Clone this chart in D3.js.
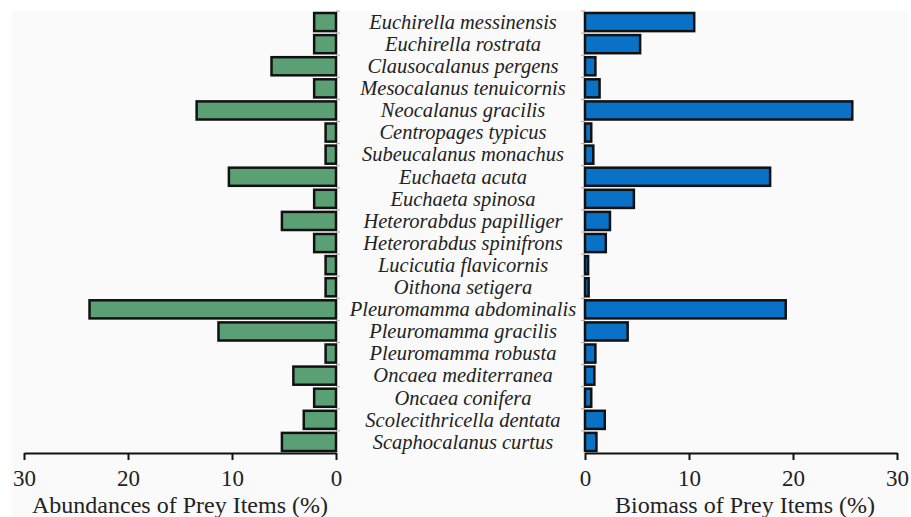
<html>
    <head>
        <script src="https://d3js.org/d3.v7.min.js"></script>
        <style>
            body { margin: 0; background: #ffffff; }
            .axis path, .axis line { stroke: #111; stroke-width: 2; }
        </style>
    </head>
    <body>
        <svg height="517" width="911" id="pyramid"></svg>
        <script>
            // prey species, top to bottom
            const species = [
                'Euchirella messinensis', 'Euchirella rostrata', 'Clausocalanus pergens',
                'Mesocalanus tenuicornis', 'Neocalanus gracilis', 'Centropages typicus',
                'Subeucalanus monachus', 'Euchaeta acuta', 'Euchaeta spinosa',
                'Heterorabdus papilliger', 'Heterorabdus spinifrons', 'Lucicutia flavicornis',
                'Oithona setigera', 'Pleuromamma abdominalis', 'Pleuromamma gracilis',
                'Pleuromamma robusta', 'Oncaea mediterranea', 'Oncaea conifera',
                'Scolecithricella dentata', 'Scaphocalanus curtus'
            ];
            const abundance = [2.1, 2.1, 6.2, 2.1, 13.4, 1.0, 1.0, 10.3, 2.1, 5.2,
                               2.1, 1.0, 1.0, 23.7, 11.3, 1.0, 4.1, 2.1, 3.1, 5.2];
            const biomass = [10.5, 5.3, 1.0, 1.4, 25.7, 0.6, 0.8, 17.8, 4.7, 2.4,
                             2.0, 0.3, 0.35, 19.3, 4.1, 1.0, 0.9, 0.6, 1.9, 1.1];
            const tickValues = [0, 10, 20, 30];
            const leftTitle = 'Abundances of Prey Items (%)';
            const rightTitle = 'Biomass of Prey Items (%)';

            const serif = "'Liberation Serif', 'Times New Roman', 'DejaVu Serif', serif";
            const svg = d3.select('svg#pyramid');
            const axisY = 453;

            let rows = species.map((s, i) => ({ name: s, abund: abundance[i], bio: biomass[i] }));

            let yScale = d3.scaleBand().domain(species).range([11, axisY])
                .paddingInner(0.18).paddingOuter(0.09);
            let leftScale = d3.scaleLinear().domain([0, 30]).range([336, 24]);
            let rightScale = d3.scaleLinear().domain([0, 30]).range([585, 897]);

            // faint plot background
            svg.append('rect')
                .attr('x', 12).attr('y', 11)
                .attr('width', 896).attr('height', 506)
                .attr('fill', '#fafafa');

            // little boundary ticks on the zero lines
            let step = yScale.step();
            let bounds = species.map(s => yScale(s) - step * 0.09);
            svg.append('g').selectAll('line').data(bounds).join('line')
                .attr('x1', leftScale(0)).attr('x2', leftScale(0) + 4)
                .attr('y1', d => d).attr('y2', d => d)
                .attr('stroke', '#aaa').attr('stroke-width', 1);
            svg.append('g').selectAll('line').data(bounds).join('line')
                .attr('x1', rightScale(0) - 4).attr('x2', rightScale(0))
                .attr('y1', d => d).attr('y2', d => d)
                .attr('stroke', '#aaa').attr('stroke-width', 1);

            // abundance bars (left)
            svg.append('g').selectAll('rect').data(rows).join('rect')
                .attr('x', d => leftScale(d.abund))
                .attr('y', d => yScale(d.name))
                .attr('width', d => leftScale(0) - leftScale(d.abund))
                .attr('height', yScale.bandwidth())
                .attr('fill', '#5b9f75')
                .attr('stroke', '#111')
                .attr('stroke-width', 2.5);

            // biomass bars (right)
            svg.append('g').selectAll('rect').data(rows).join('rect')
                .attr('x', rightScale(0))
                .attr('y', d => yScale(d.name))
                .attr('width', d => rightScale(d.bio) - rightScale(0))
                .attr('height', yScale.bandwidth())
                .attr('fill', '#0a72c6')
                .attr('stroke', '#111')
                .attr('stroke-width', 2.5);

            // species names in the middle
            svg.append('g').selectAll('text').data(rows).join('text')
                .attr('x', 463)
                .attr('y', d => yScale(d.name) + yScale.bandwidth() / 2)
                .attr('dy', '0.33em')
                .attr('text-anchor', 'middle')
                .attr('font-family', serif)
                .attr('font-style', 'italic')
                .attr('font-size', 20.5)
                .attr('fill', '#222')
                .text(d => d.name);

            // bottom axes
            let leftAxis = d3.axisBottom(leftScale).tickValues(tickValues)
                .tickSize(7).tickSizeOuter(0).tickPadding(10);
            let gl = svg.append('g')
                .attr('class', 'axis')
                .attr('transform', `translate(0, ${axisY})`)
                .call(leftAxis);

            let rightAxis = d3.axisBottom(rightScale).tickValues(tickValues)
                .tickSize(7).tickSizeOuter(0).tickPadding(10);
            let gr = svg.append('g')
                .attr('class', 'axis')
                .attr('transform', `translate(0, ${axisY})`)
                .call(rightAxis);

            [gl, gr].forEach(g => g.attr('font-family', serif).attr('font-size', 23)
                .selectAll('text').attr('fill', '#222'));

            svg.append('text')
                .attr('x', (leftScale(0) + leftScale(30)) / 2)
                .attr('y', 513)
                .attr('text-anchor', 'middle')
                .attr('font-family', serif)
                .attr('font-size', 24)
                .attr('fill', '#222')
                .text(leftTitle);

            svg.append('text')
                .attr('x', (rightScale(0) + rightScale(30)) / 2 + 4)
                .attr('y', 513)
                .attr('text-anchor', 'middle')
                .attr('font-family', serif)
                .attr('font-size', 24)
                .attr('fill', '#222')
                .text(rightTitle);
        </script>
    </body>
</html>
